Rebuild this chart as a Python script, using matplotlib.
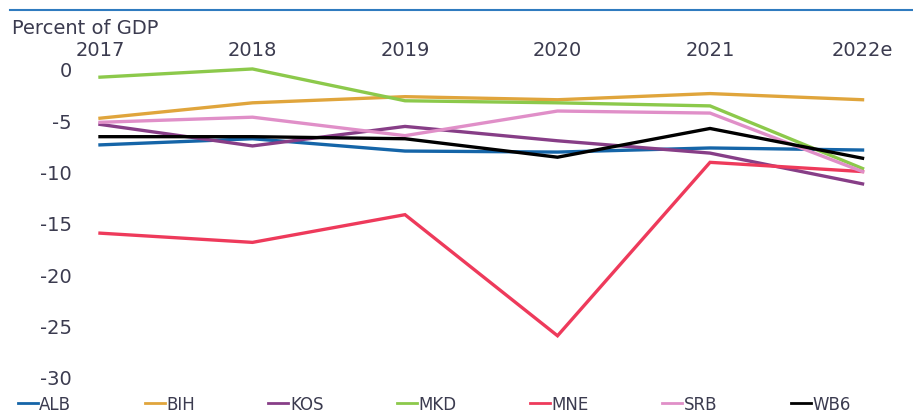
import numpy as np
import matplotlib.pyplot as plt

# data (percent of GDP)
years = ['2017', '2018', '2019', '2020', '2021', '2022e']
alb = [-7.4, -6.8, -8.0, -8.1, -7.7, -7.9]
bih = [-4.8, -3.3, -2.7, -3.0, -2.4, -3.0]
kos = [-5.4, -7.5, -5.6, -7.0, -8.2, -11.2]
mkd = [-0.8, 0.0, -3.1, -3.3, -3.6, -9.7]
mne = [-16.0, -16.9, -14.2, -26.0, -9.1, -10.0]
srb = [-5.2, -4.7, -6.5, -4.1, -4.3, -10.0]
wb6 = [-6.6, -6.6, -6.8, -8.6, -5.8, -8.7]

series = [('ALB', alb, '#1565a8'), ('BIH', bih, '#e0a53c'), ('KOS', kos, '#873e87'),
          ('MKD', mkd, '#8cc94b'), ('MNE', mne, '#ee3a5b'), ('SRB', srb, '#e08fc8'),
          ('WB6', wb6, '#000000')]

plt.rcParams['font.family'] = ['DejaVu Sans']
txt = '#3b3b4f'

fig = plt.figure(figsize=(9.13, 4.14), dpi=100)
W, H = 913, 414
ax = fig.add_axes([80/W, 1-385/H, (890-80)/W, (385-60)/H])

xx = np.arange(len(years))
for name, vals, c in series:
    ax.plot(xx, vals, color=c, lw=2.4, label=name, solid_joinstyle='miter')

ax.set_xlim(-0.131, 5.18)
ax.set_ylim(-30.7, 0.97)
ax.xaxis.tick_top()
ax.set_xticks(xx, years)
ax.set_yticks([0, -5, -10, -15, -20, -25, -30], ['0', '-5', '-10', '-15', '-20', '-25', '-30'])
ax.tick_params(length=0, labelsize=14, colors=txt, pad=0)
ax.tick_params(axis='y', pad=6)
for s in ax.spines.values():
    s.set_visible(False)

fig.text(12/W, 1-28/H, 'Percent of GDP', fontsize=14, color=txt, va='center', ha='left')
fig.add_artist(plt.Line2D([10/W, 1], [1-11/H, 1-11/H], color='#2f7bbf', lw=1.5))

fig.legend(loc='center left', bbox_to_anchor=(0.012, 1-405/H), ncol=7, frameon=False,
           handlelength=1.2, handletextpad=0.1, columnspacing=4.4, fontsize=12,
           labelcolor=txt, borderaxespad=0)
for l in fig.legends[0].get_lines():
    l.set_linewidth(2)

fig.savefig('out.png', dpi=100)
